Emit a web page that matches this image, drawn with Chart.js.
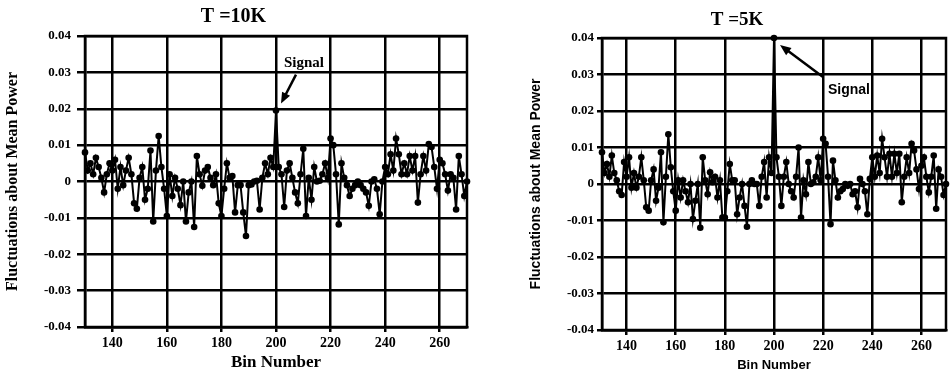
<!DOCTYPE html>
<html>
<head>
<meta charset="utf-8">
<script src="https://cdn.jsdelivr.net/npm/chart.js@4.4.1/dist/chart.umd.min.js"></script>
<style>
    html, body { margin: 0; padding: 0; background: #fff; }
    body { width: 950px; height: 377px; position: relative; overflow: hidden; }
    #chart10K { position: absolute; left: 0; top: 0; width: 480px; height: 377px; }
    #chart5K { position: absolute; left: 525px; top: 0; width: 425px; height: 377px; }
</style>
</head>
<body>
<canvas id="chart10K" width="480" height="377"></canvas>
<canvas id="chart5K" width="425" height="377"></canvas>
<script>
// bin numbers on the x axis
const bins = [
    130, 131, 132, 133, 134, 135, 136, 137, 138, 139,
    140, 141, 142, 143, 144, 145, 146, 147, 148, 149,
    150, 151, 152, 153, 154, 155, 156, 157, 158, 159,
    160, 161, 162, 163, 164, 165, 166, 167, 168, 169,
    170, 171, 172, 173, 174, 175, 176, 177, 178, 179,
    180, 181, 182, 183, 184, 185, 186, 187, 188, 189,
    190, 191, 192, 193, 194, 195, 196, 197, 198, 199,
    200, 201, 202, 203, 204, 205, 206, 207, 208, 209,
    210, 211, 212, 213, 214, 215, 216, 217, 218, 219,
    220, 221, 222, 223, 224, 225, 226, 227, 228, 229,
    230, 231, 232, 233, 234, 235, 236, 237, 238, 239,
    240, 241, 242, 243, 244, 245, 246, 247, 248, 249,
    250, 251, 252, 253, 254, 255, 256, 257, 258, 259,
    260, 261, 262, 263, 264, 265, 266, 267, 268, 269,
    270
];

// fluctuations about mean power, T = 10K
const power10K = [
    0.008, 0.003, 0.005, 0.002, 0.0065, 0.004, 0.001, -0.003, 0.002, 0.005,
    0.003, 0.006, -0.002, 0.004, -0.001, 0.003, 0.0065, 0.002, -0.006, -0.0075,
    0.001, 0.004, -0.005, -0.002, 0.0085, -0.011, 0.003, 0.0125, 0.004, -0.002,
    -0.0095, 0.002, -0.004, 0.001, -0.002, -0.0065, 0.000, -0.011, -0.003, 0.000,
    -0.0125, 0.007, 0.002, -0.0012, 0.003, 0.004, 0.001, -0.001, 0.002, -0.006,
    -0.0095, -0.002, 0.005, 0.001, 0.0015, -0.0085, -0.001, -0.001, -0.0085, -0.015,
    -0.001, -0.0008, 0.000, 0.0002, -0.0077, 0.001, 0.005, 0.002, 0.0065, 0.004,
    0.0195, 0.004, 0.002, -0.007, 0.003, 0.005, 0.001, -0.003, -0.006, 0.002,
    0.009, -0.0095, 0.001, -0.005, 0.004, 0.000, 0.0002, 0.002, 0.005, 0.001,
    0.0118, 0.010, 0.002, -0.0118, 0.005, 0.001, -0.001, -0.004, -0.002, -0.001,
    0.000, -0.001, -0.002, -0.003, -0.0067, 0.000, 0.0006, -0.002, -0.009, 0.000,
    0.004, 0.002, 0.0075, 0.003, 0.0118, 0.0075, 0.002, 0.005, 0.002, 0.007,
    0.003, 0.007, -0.0058, 0.002, 0.007, 0.003, 0.0103, 0.0095, 0.004, -0.002,
    0.006, 0.005, 0.002, -0.0025, 0.002, 0.001, -0.0077, 0.007, 0.002, -0.004,
    0.000
];

// fluctuations about mean power, T = 5K
const power5K = [
    0.0087, 0.003, 0.0055, 0.002, 0.0078, 0.003, 0.001, -0.002, -0.003, 0.006,
    0.002, 0.0073, -0.001, 0.003, -0.001, 0.002, 0.0073, 0.001, -0.0064, -0.0073,
    0.001, 0.004, -0.0046, -0.001, 0.0087, -0.0105, 0.002, 0.0136, 0.0046, -0.002,
    -0.0073, 0.001, -0.0037, 0.001, -0.002, -0.005, 0.000, -0.0096, -0.0046, 0.000,
    -0.012, 0.0073, 0.001, -0.0028, 0.0032, 0.0005, 0.002, -0.0037, 0.001, -0.0092,
    -0.0092, -0.002, 0.0055, 0.001, 0.001, -0.0083, -0.0037, 0.000, -0.006, -0.0117,
    0.000, 0.001, 0.000, 0.000, -0.006, 0.002, 0.006, -0.0037, 0.0073, 0.003,
    0.040, 0.0073, 0.002, -0.006, 0.002, 0.006, 0.000, -0.002, -0.0037, 0.002,
    0.010, -0.0092, 0.001, -0.0028, 0.006, 0.000, 0.0005, 0.002, 0.0073, 0.001,
    0.0124, 0.011, 0.002, -0.011, 0.0064, 0.001, -0.0037, -0.002, -0.0014, 0.000,
    -0.0005, 0.000, -0.0028, -0.002, -0.0064, 0.0014, 0.000, -0.002, -0.0083, 0.0014,
    0.0073, 0.002, 0.0078, 0.003, 0.0124, 0.0073, 0.002, 0.0083, 0.002, 0.0083,
    0.003, 0.0083, -0.005, 0.002, 0.0073, 0.003, 0.011, 0.0092, 0.004, -0.0014,
    0.005, 0.0073, 0.002, -0.0023, 0.002, 0.0078, -0.0068, 0.004, 0.002, -0.003,
    0.000
];

const xTicks = [140, 160, 180, 200, 220, 240, 260];
const yTicks = [-0.04, -0.03, -0.02, -0.01, 0, 0.01, 0.02, 0.03, 0.04];
const signalBin = 200;

// box round the plot area
const framePlugin = {
    id: 'frame',
    afterDatasetsDraw(chart) {
        let a = chart.chartArea;
        let ctx = chart.ctx;
        ctx.save();
        ctx.strokeStyle = '#000';
        ctx.lineWidth = 2.5;
        ctx.strokeRect(a.left, a.top, a.right - a.left, a.bottom - a.top);
        ctx.restore();
    }
};

function signalPlugin(peak, tip, tail, text, font) {
    return {
        id: 'signal',
        afterDraw(chart) {
            let ctx = chart.ctx;
            let px = chart.scales.x.getPixelForValue(signalBin);
            let py = chart.scales.y.getPixelForValue(peak);
            let tx = px + tip[0], ty = py + tip[1];
            let sx = px + tail[0], sy = py + tail[1];
            let ang = Math.atan2(ty - sy, tx - sx);

            ctx.save();
            ctx.strokeStyle = '#000';
            ctx.fillStyle = '#000';
            ctx.lineWidth = 2.5;
            ctx.beginPath();
            ctx.moveTo(sx, sy);
            ctx.lineTo(tx - 6 * Math.cos(ang), ty - 6 * Math.sin(ang));
            ctx.stroke();

            ctx.beginPath();
            ctx.moveTo(tx, ty);
            ctx.lineTo(tx - 11 * Math.cos(ang) + 4.5 * Math.sin(ang), ty - 11 * Math.sin(ang) - 4.5 * Math.cos(ang));
            ctx.lineTo(tx - 11 * Math.cos(ang) - 4.5 * Math.sin(ang), ty - 11 * Math.sin(ang) + 4.5 * Math.cos(ang));
            ctx.closePath();
            ctx.fill();

            ctx.font = font;
            ctx.textAlign = 'center';
            ctx.textBaseline = 'middle';
            ctx.fillText('Signal', px + text[0], py + text[1]);
            ctx.restore();
        }
    };
}

function yTickLabel(value) {
    return value === 0 ? '0' : value.toFixed(2);
}

function setPowerGraph(canvasId, values, cfg) {
    let ctx = document.getElementById(canvasId).getContext('2d');

    return new Chart(ctx, {
        type: 'line',
        data: {
            datasets: [{
                data: bins.map((b, i) => ({x: b, y: values[i]})),
                borderColor: '#000',
                borderWidth: 2,
                backgroundColor: '#000',
                pointRadius: 3.3,
                pointBorderWidth: 0,
                pointBackgroundColor: '#000',
                tension: 0,
                clip: false
            }]
        },
        options: {
            responsive: false,
            animation: false,
            events: [],
            layout: {
                padding: {top: cfg.padTop, right: cfg.padRight, left: 0, bottom: 0}
            },
            plugins: {
                legend: {display: false},
                tooltip: {enabled: false},
                title: {
                    display: true,
                    text: cfg.title,
                    color: '#000',
                    font: {family: 'Liberation Serif', size: cfg.titleSize, weight: 'bold'},
                    padding: {top: 2, bottom: 7}
                }
            },
            scales: {
                x: {
                    type: 'linear',
                    min: 130,
                    max: 270,
                    afterBuildTicks: (scale) => { scale.ticks = xTicks.map(v => ({value: v})); },
                    afterFit: (scale) => { scale.height = cfg.xHeight; },
                    grid: {color: '#000', lineWidth: 2.5, tickLength: 5},
                    border: {color: '#000', width: 2.5},
                    ticks: {
                        color: '#000',
                        padding: 3,
                        maxRotation: 0,
                        font: {family: 'Liberation Serif', size: 14, weight: 'bold'}
                    },
                    title: {
                        display: true,
                        text: 'Bin Number',
                        color: '#000',
                        font: cfg.xTitleFont,
                        padding: {top: 2, bottom: 4}
                    }
                },
                y: {
                    type: 'linear',
                    min: -0.04,
                    max: 0.04,
                    afterBuildTicks: (scale) => { scale.ticks = yTicks.map(v => ({value: v})); },
                    afterFit: (scale) => { scale.width = cfg.yWidth; },
                    grid: {color: '#000', lineWidth: 2.5, tickLength: cfg.yTickLength},
                    border: {color: '#000', width: 2.5},
                    ticks: {
                        color: '#000',
                        padding: cfg.yTickPadding,
                        callback: yTickLabel,
                        font: {family: 'Liberation Serif', size: 13, weight: 'bold'}
                    },
                    title: {
                        display: true,
                        text: 'Fluctuations about Mean Power',
                        color: '#000',
                        font: cfg.yTitleFont,
                        padding: {top: 3, bottom: 4}
                    }
                }
            }
        },
        plugins: [framePlugin, cfg.signal]
    });
}

let chart_10K = setPowerGraph('chart10K', power10K, {
    title: 'T =10K',
    titleSize: 20,
    padTop: 3.0,
    padRight: 13,
    xHeight: 50,
    yWidth: 85,
    yTickLength: 8,
    yTickPadding: 6,
    xTitleFont: {family: 'Liberation Serif', size: 17, weight: 'bold'},
    yTitleFont: {family: 'Liberation Serif', size: 16, weight: 'bold'},
    signal: signalPlugin(power10K[bins.indexOf(signalBin)], [5, -7], [20, -36], [28, -47], 'bold 15px "Liberation Serif"')
});

let chart_5K = setPowerGraph('chart5K', power5K, {
    title: 'T =5K',
    titleSize: 19,
    padTop: 6.2,
    padRight: 1,
    xHeight: 47,
    yWidth: 77,
    yTickLength: 5,
    yTickPadding: 3,
    xTitleFont: {family: 'Liberation Sans', size: 13, weight: 'bold'},
    yTitleFont: {family: 'Liberation Sans', size: 14, weight: 'bold'},
    signal: signalPlugin(power5K[bins.indexOf(signalBin)], [6, 7], [49, 39], [75, 52], 'bold 14px "Liberation Sans"')
});
</script>
</body>
</html>
